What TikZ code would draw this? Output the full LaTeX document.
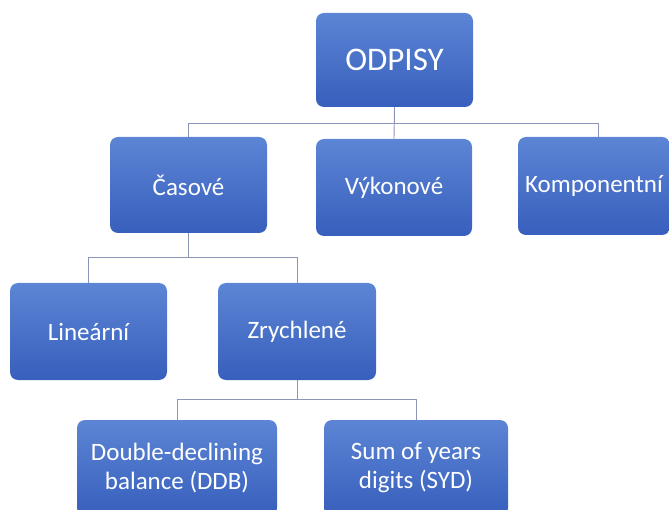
\documentclass[tikz,border=0pt]{standalone}
\usepackage{fontspec}
\setmainfont{Carlito}
\usetikzlibrary{shapes.geometric, positioning, calc}

\definecolor{boxtop}{RGB}{92,133,213}
\definecolor{boxbottom}{RGB}{55,95,188}
\definecolor{linkcol}{RGB}{140,148,184}

\begin{document}
\begin{tikzpicture}[
    x=1pt, y=-1pt,
    box/.style={rectangle, rounded corners=8pt, top color=boxtop, bottom color=boxbottom, draw=none, text=white, align=center, font=\fontsize{25}{29}\selectfont, inner sep=2pt},
    link/.style={draw=linkcol, line width=0.9pt}
]
\useasboundingbox (0,0) rectangle (669,510);

% Boxes
\node[box, minimum width=157pt, minimum height=94pt, font=\fontsize{33}{38}\selectfont] (odpisy) at (394.5,60) {ODPISY};
\node[box, minimum width=157pt, minimum height=96pt] (casove) at (188.5,185) {Časové};
\node[box, minimum width=156pt, minimum height=97pt] (vykonove) at (394,187.5) {Výkonové};
\node[box, minimum width=152pt, minimum height=98pt] (komponentni) at (594,186) {Komponentní};
\node[box, minimum width=157pt, minimum height=97pt] (linearni) at (88.5,331.5) {Lineární};
\node[box, minimum width=158pt, minimum height=97pt] (zrychlene) at (297,331.5) {Zrychlené};
\node[box, minimum width=200pt, minimum height=96pt] (ddb) at (177,468) {Double-declining\\balance (DDB)};
\node[box, minimum width=184pt, minimum height=96pt] (syd) at (416,468) {Sum of years\\digits (SYD)};

% Bus levels
\coordinate (bus1) at (0,123);
\coordinate (bus2) at (0,257);
\coordinate (bus3) at (0,399);

% Links
\draw[link] (odpisy.south) -- (odpisy.south |- bus1) -| (casove.north);
\draw[link] (odpisy.south) -- (vykonove.north);
\draw[link] (odpisy.south |- bus1) -| ([xshift=4pt]komponentni.north);
\draw[link] (casove.south) -- (casove.south |- bus2) -| (linearni.north);
\draw[link] (casove.south |- bus2) -| (zrychlene.north);
\draw[link] (zrychlene.south) -- (zrychlene.south |- bus3) -| (ddb.north);
\draw[link] (zrychlene.south |- bus3) -| (syd.north);

\end{tikzpicture}
\end{document}
